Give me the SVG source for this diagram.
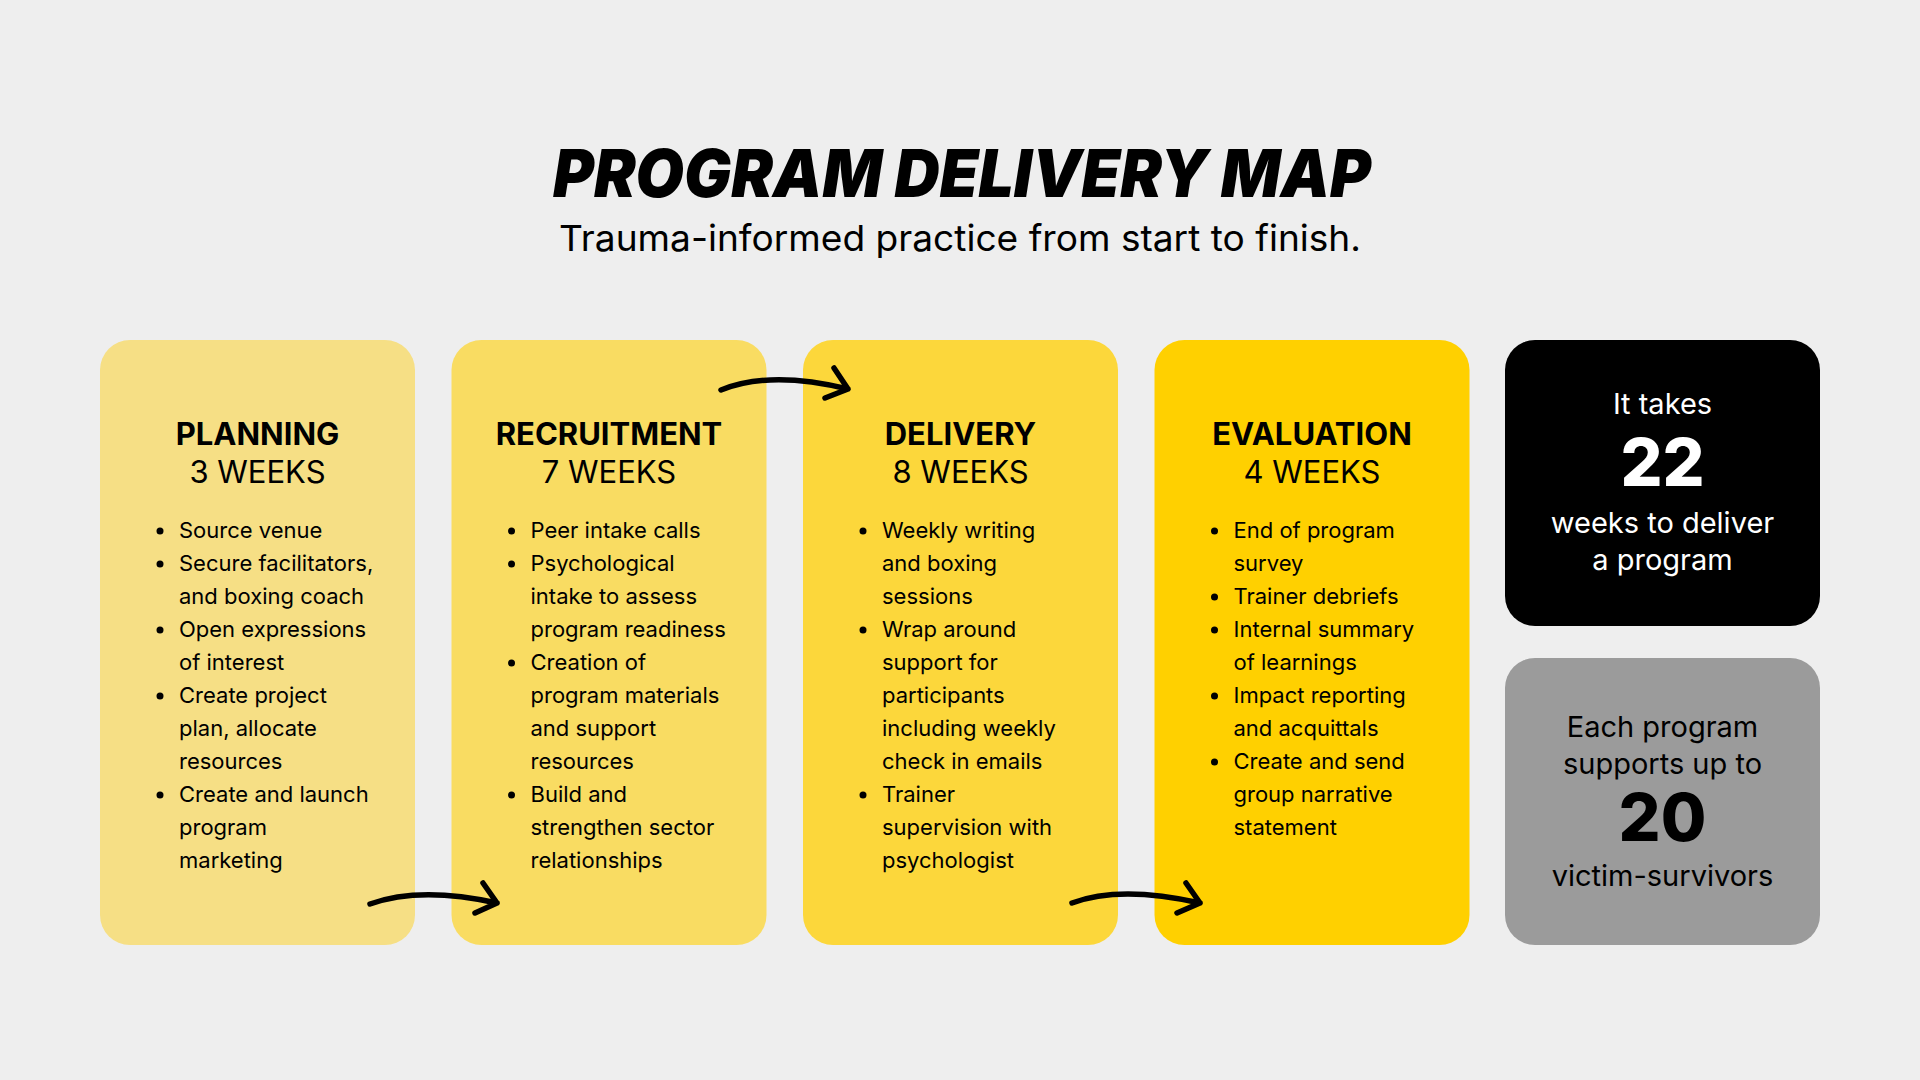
<svg xmlns="http://www.w3.org/2000/svg" width="1920" height="1080" viewBox="0 0 1920 1080">
<style>
.bg{fill:#EEEEEE}
.card{stroke:none}
.hd{font-family:Inter,"Liberation Sans",sans-serif;font-size:31px;font-weight:700;fill:#000;text-anchor:middle}
.wk{font-family:Inter,"Liberation Sans",sans-serif;font-size:31px;font-weight:400;fill:#000;text-anchor:middle}
.li{font-family:Inter,"Liberation Sans",sans-serif;font-size:22px;font-weight:400;fill:#000}
.dot{fill:#000}
.st{font-family:Inter,"Liberation Sans",sans-serif;font-size:29px;font-weight:400;text-anchor:middle}
.big{font-family:Inter,"Liberation Sans",sans-serif;font-size:66px;font-weight:800;text-anchor:middle}
.arrow{fill:none;stroke:#000;stroke-width:5.5;stroke-linecap:round;stroke-linejoin:round}
</style>
<rect class="bg" x="0" y="0" width="1920" height="1080"/>
<g id="title">
<text x="962" y="197" font-family="Inter,'Liberation Sans',sans-serif" font-size="66" font-weight="900" font-style="italic" text-anchor="middle" textLength="818" lengthAdjust="spacingAndGlyphs" fill="#000">PROGRAM DELIVERY MAP</text>
<text x="960" y="251" font-family="Inter,'Liberation Sans',sans-serif" font-size="36" fill="#000" text-anchor="middle" textLength="802" lengthAdjust="spacingAndGlyphs">Trauma-informed practice from start to finish.</text>
</g>
<g id="planning">
<rect class="card" x="100" y="340" width="315" height="605" rx="30" fill="#F6DF85"/>
<text class="hd" x="257.5" y="445">PLANNING</text>
<text class="wk" x="257.5" y="483">3 WEEKS</text>
<g class="li">
<circle class="dot" cx="160" cy="531" r="3.5"/><text x="179" y="538">Source venue</text>
<circle class="dot" cx="160" cy="564" r="3.5"/><text x="179" y="571">Secure facilitators,</text>
<text x="179" y="604">and boxing coach</text>
<circle class="dot" cx="160" cy="630" r="3.5"/><text x="179" y="637">Open expressions</text>
<text x="179" y="670">of interest</text>
<circle class="dot" cx="160" cy="696" r="3.5"/><text x="179" y="703">Create project</text>
<text x="179" y="736">plan, allocate</text>
<text x="179" y="769">resources</text>
<circle class="dot" cx="160" cy="795" r="3.5"/><text x="179" y="802">Create and launch</text>
<text x="179" y="835">program</text>
<text x="179" y="868">marketing</text>
</g>
</g>
<g id="recruitment">
<rect class="card" x="451.5" y="340" width="315" height="605" rx="30" fill="#F9DC62"/>
<text class="hd" x="609" y="445">RECRUITMENT</text>
<text class="wk" x="609" y="483">7 WEEKS</text>
<g class="li">
<circle class="dot" cx="511.5" cy="531" r="3.5"/><text x="530.5" y="538">Peer intake calls</text>
<circle class="dot" cx="511.5" cy="564" r="3.5"/><text x="530.5" y="571">Psychological</text>
<text x="530.5" y="604">intake to assess</text>
<text x="530.5" y="637">program readiness</text>
<circle class="dot" cx="511.5" cy="663" r="3.5"/><text x="530.5" y="670">Creation of</text>
<text x="530.5" y="703">program materials</text>
<text x="530.5" y="736">and support</text>
<text x="530.5" y="769">resources</text>
<circle class="dot" cx="511.5" cy="795" r="3.5"/><text x="530.5" y="802">Build and</text>
<text x="530.5" y="835">strengthen sector</text>
<text x="530.5" y="868">relationships</text>
</g>
</g>
<g id="delivery">
<rect class="card" x="803" y="340" width="315" height="605" rx="30" fill="#FCD73B"/>
<text class="hd" x="960.5" y="445">DELIVERY</text>
<text class="wk" x="960.5" y="483">8 WEEKS</text>
<g class="li">
<circle class="dot" cx="863" cy="531" r="3.5"/><text x="882" y="538">Weekly writing</text>
<text x="882" y="571">and boxing</text>
<text x="882" y="604">sessions</text>
<circle class="dot" cx="863" cy="630" r="3.5"/><text x="882" y="637">Wrap around</text>
<text x="882" y="670">support for</text>
<text x="882" y="703">participants</text>
<text x="882" y="736">including weekly</text>
<text x="882" y="769">check in emails</text>
<circle class="dot" cx="863" cy="795" r="3.5"/><text x="882" y="802">Trainer</text>
<text x="882" y="835">supervision with</text>
<text x="882" y="868">psychologist</text>
</g>
</g>
<g id="evaluation">
<rect class="card" x="1154.5" y="340" width="315" height="605" rx="30" fill="#FFD000"/>
<text class="hd" x="1312" y="445">EVALUATION</text>
<text class="wk" x="1312" y="483">4 WEEKS</text>
<g class="li">
<circle class="dot" cx="1214.5" cy="531" r="3.5"/><text x="1233.5" y="538">End of program</text>
<text x="1233.5" y="571">survey</text>
<circle class="dot" cx="1214.5" cy="597" r="3.5"/><text x="1233.5" y="604">Trainer debriefs</text>
<circle class="dot" cx="1214.5" cy="630" r="3.5"/><text x="1233.5" y="637">Internal summary</text>
<text x="1233.5" y="670">of learnings</text>
<circle class="dot" cx="1214.5" cy="696" r="3.5"/><text x="1233.5" y="703">Impact reporting</text>
<text x="1233.5" y="736">and acquittals</text>
<circle class="dot" cx="1214.5" cy="762" r="3.5"/><text x="1233.5" y="769">Create and send</text>
<text x="1233.5" y="802">group narrative</text>
<text x="1233.5" y="835">statement</text>
</g>
</g>
<g id="total-weeks">
<rect class="card" x="1505" y="340" width="315" height="286" rx="30" fill="#000000"/>
<text class="st" x="1662.5" y="414" fill="#FFFFFF">It takes</text>
<text class="big" x="1662.5" y="486" fill="#FFFFFF">22</text>
<text class="st" x="1662.5" y="533" fill="#FFFFFF">weeks to deliver</text>
<text class="st" x="1662.5" y="570" fill="#FFFFFF">a program</text>
</g>
<g id="participants">
<rect class="card" x="1505" y="658" width="315" height="287" rx="30" fill="#9B9B9B"/>
<text class="st" x="1662.5" y="737" fill="#000">Each program</text>
<text class="st" x="1662.5" y="774" fill="#000">supports up to</text>
<text class="big" x="1662.5" y="841" fill="#000">20</text>
<text class="st" x="1662.5" y="886" fill="#000">victim-survivors</text>
</g>
<g id="connectors">
<path class="arrow" d="M370,904 Q420,886 497,903 M483,883 L497,903 L475,913"/>
<path class="arrow" d="M721,390 Q770,370 848,389 M834,368 L848,389 L825,398"/>
<path class="arrow" d="M1072,903 Q1120,885 1200,903 M1186,883 L1200,903 L1177,913"/>
</g>
</svg>
